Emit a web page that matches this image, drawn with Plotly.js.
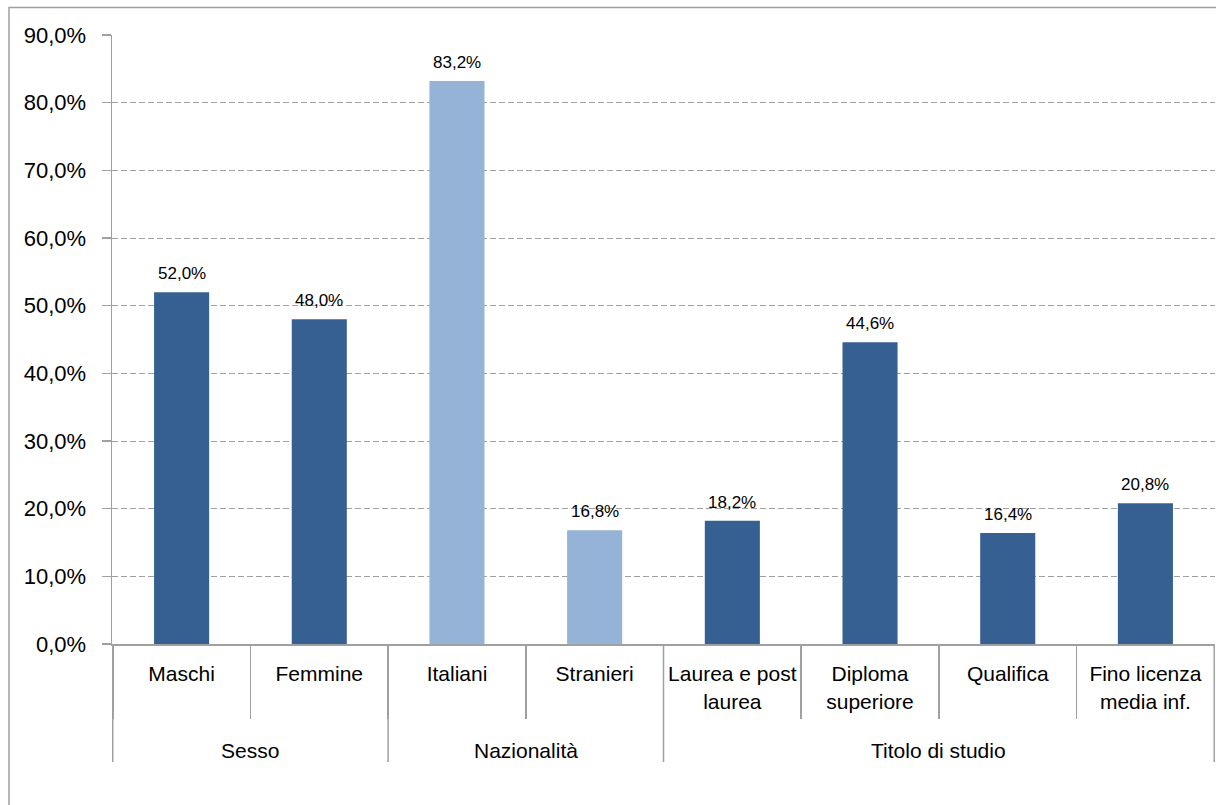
<!DOCTYPE html>
<html>
<head>
<meta charset="utf-8">
<script src="https://cdn.plot.ly/plotly-3.0.1.min.js"></script>
<style>html,body{margin:0;padding:0;background:#fff;}#chart{width:1216px;height:805px;}</style>
</head>
<body>
<div id="chart"></div>
<script>
const groups = ["Sesso", "Sesso", "Nazionalità", "Nazionalità", "Titolo di studio", "Titolo di studio", "Titolo di studio", "Titolo di studio"];
const categories = ["Maschi", "Femmine", "Italiani", "Stranieri", "Laurea e post<br>laurea", "Diploma<br>superiore", "Qualifica", "Fino licenza<br>media inf."];
const values = [52.0, 48.0, 83.2, 16.8, 18.2, 44.6, 16.4, 20.8];
const yTicks = [0, 10, 20, 30, 40, 50, 60, 70, 80, 90];

const groupColor = {"Sesso": "#366092", "Nazionalità": "#95B3D7", "Titolo di studio": "#366092"};
const barColors = groups.map(g => groupColor[g]);

const font = "Liberation Sans, Arial, sans-serif";
const plotL = 112, plotR = 1215, plotT = 35, plotB = 644, W = 1216, H = 805;
const plotH = plotB - plotT;
const fmt = v => v.toFixed(1).replace(".", ",") + "%";

// group spans in category index units
const groupSpans = [];
groups.forEach((g, i) => {
  const last = groupSpans[groupSpans.length - 1];
  if (last && last.name === g) last.end = i; else groupSpans.push({name: g, start: i, end: i});
});

const trace = {
  type: "bar",
  x: categories,
  y: values,
  marker: {color: barColors, line: {width: 0}},
  hoverinfo: "skip"
};

const annotations = [];
values.forEach((v, i) => annotations.push({
  xref: "x", yref: "y", x: categories[i], y: v, text: fmt(v),
  showarrow: false, yanchor: "bottom", yshift: 7,
  font: {family: font, size: 17, color: "#000"}
}));
groupSpans.forEach(s => annotations.push({
  xref: "x", yref: "paper", x: (s.start + s.end) / 2, y: (plotB - 750) / plotH,
  text: s.name, showarrow: false, yanchor: "middle", xanchor: "center",
  font: {family: font, size: 21, color: "#000"}
}));

const shapes = [{
  type: "rect", xref: "paper", yref: "paper",
  x0: (9 - plotL) / (plotR - plotL), x1: (W + 5 - plotL) / (plotR - plotL),
  y0: (plotB - (H + 5)) / plotH, y1: (plotB - 7.5) / plotH,
  line: {color: "#a0a0a0", width: 1.5}, fillcolor: "rgba(0,0,0,0)", layer: "below"
}];
const divs = [groupSpans[0].start - 0.5].concat(groupSpans.map(s => s.end + 0.5));
divs.forEach(d => shapes.push({
  type: "line", xref: "x", yref: "paper", x0: d, x1: d,
  y0: 0, y1: (plotB - 762) / plotH,
  line: {color: "#a0a0a0", width: 1.5}
}));

const layout = {
  width: W, height: H,
  margin: {l: plotL, r: W - plotR, t: plotT, b: H - plotB, pad: 0},
  paper_bgcolor: "#fff", plot_bgcolor: "#fff",
  bargap: 0.6,
  showlegend: false,
  font: {family: font, color: "#000"},
  xaxis: {
    type: "category",
    showline: true, linecolor: "#a0a0a0", linewidth: 2,
    ticks: "outside", tickson: "boundaries", ticklen: 73, tickcolor: "#a0a0a0", tickwidth: 1.5,
    tickangle: 0,
    ticklabelstandoff: 10,
    tickfont: {family: font, size: 21, color: "#000"},
    showgrid: false, zeroline: false
  },
  yaxis: {
    range: [0, 90], tickmode: "array", tickvals: yTicks, ticktext: yTicks.map(fmt),
    showline: true, linecolor: "#a0a0a0", linewidth: 1.5,
    ticks: "outside", ticklen: 9, tickcolor: "#a0a0a0", tickwidth: 1.5,
    ticklabelstandoff: 11,
    showgrid: true, gridcolor: "#a0a0a0", gridwidth: 1, griddash: "6px,3px",
    zeroline: false,
    tickfont: {family: font, size: 22, color: "#000"}
  },
  annotations: annotations,
  shapes: shapes
};

Plotly.newPlot("chart", [trace], layout, {staticPlot: true, displayModeBar: false});
</script>
</body>
</html>
